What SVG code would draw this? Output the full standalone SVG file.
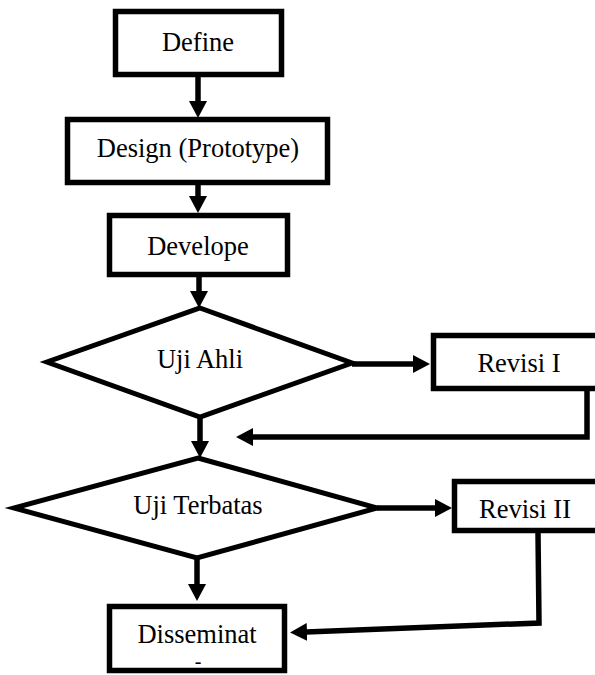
<svg xmlns="http://www.w3.org/2000/svg" width="595" height="675" viewBox="0 0 595 675">
<style>
.box{fill:#fff;stroke:#000;stroke-width:5.5}
.dia{fill:#fff;stroke:#000;stroke-width:5;stroke-linejoin:miter}
.lbl{font-family:"Liberation Serif","Times New Roman",serif;font-size:26.5px;fill:#000;text-anchor:middle}
.con{fill:none;stroke:#000;stroke-width:5.5;stroke-linejoin:miter}
</style>
<defs>
<marker id="ah" markerUnits="userSpaceOnUse" markerWidth="17" markerHeight="18" viewBox="0 0 17 18" refX="1" refY="9" orient="auto">
<path d="M0,0 L17,9 L0,18 z" fill="#000"/>
</marker>
</defs>
<rect width="595" height="675" fill="#fff"/>
<g id="connectors">
<line class="con" x1="198" y1="77" x2="198" y2="102" marker-end="url(#ah)"/>
<line class="con" x1="198" y1="185" x2="198" y2="197" marker-end="url(#ah)"/>
<line class="con" x1="199" y1="277" x2="199" y2="292" marker-end="url(#ah)"/>
<line class="con" x1="352" y1="364" x2="414" y2="364" marker-end="url(#ah)"/>
<polyline class="con" points="587,391 587,437 252,437" marker-end="url(#ah)"/>
<line class="con" x1="200" y1="417" x2="200" y2="442" marker-end="url(#ah)"/>
<line class="con" x1="377" y1="508" x2="436" y2="508" marker-end="url(#ah)"/>
<polyline class="con" points="538,533 539,623 306,632" marker-end="url(#ah)"/>
<line class="con" x1="197" y1="558" x2="197" y2="585" marker-end="url(#ah)"/>
</g>
<g id="define">
<rect class="box" x="115.5" y="11.5" width="166" height="63"/>
<text class="lbl" x="198" y="51">Define</text>
</g>
<g id="design">
<rect class="box" x="67.5" y="119.5" width="260" height="63"/>
<text class="lbl" x="198" y="157">Design (Prototype)</text>
</g>
<g id="develope">
<rect class="box" x="109.5" y="215.5" width="178" height="59"/>
<text class="lbl" x="198" y="255">Develope</text>
</g>
<g id="uji-ahli">
<polygon class="dia" points="200,308 352,363 200,417 47,362"/>
<text class="lbl" x="200" y="368">Uji Ahli</text>
</g>
<g id="revisi-1">
<rect class="box" x="433.5" y="335.5" width="170" height="53"/>
<text class="lbl" x="519" y="372">Revisi I</text>
</g>
<g id="uji-terbatas">
<polygon class="dia" points="198,458 377,508 197,558 14,508"/>
<text class="lbl" x="198" y="514">Uji Terbatas</text>
</g>
<g id="revisi-2">
<rect class="box" x="454.5" y="481.5" width="160" height="49"/>
<text class="lbl" x="525" y="518">Revisi II</text>
</g>
<g id="disseminat">
<rect class="box" x="109.5" y="606.5" width="175" height="64"/>
<text class="lbl" x="197" y="643">Disseminat</text>
<text class="lbl" x="198" y="668" style="font-size:20px">-</text>
</g>
</svg>
